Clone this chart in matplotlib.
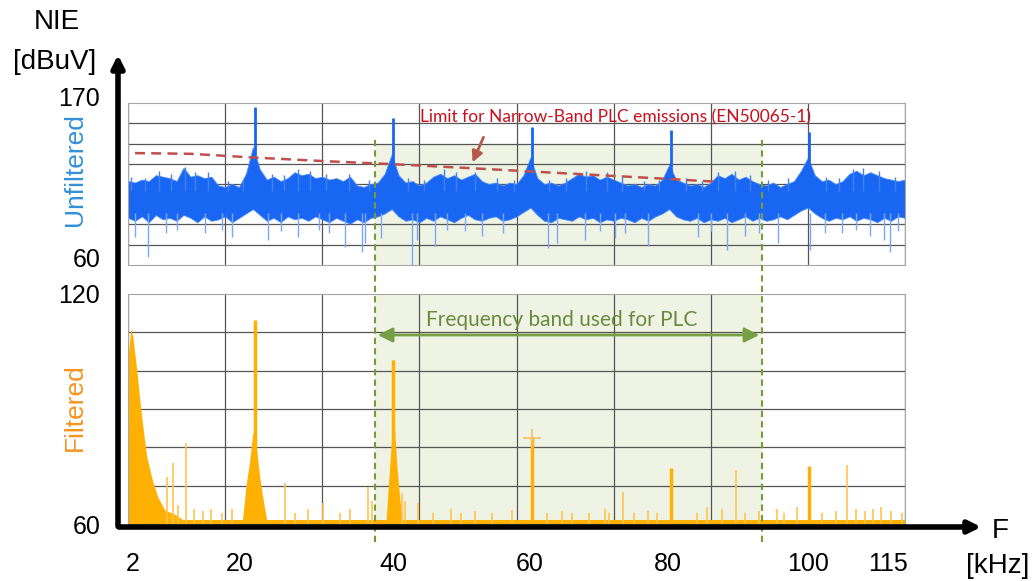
import numpy as np
import matplotlib.pyplot as plt
from matplotlib.transforms import ScaledTranslation

plt.rcParams['font.family'] = 'Liberation Sans'

# values (kHz / dBuV)
freq_khz = list(range(2, 115))
unf_hi = [117, 116, 118, 117, 121, 120, 119, 117, 126, 120, 121, 119, 120, 114, 113, 115, 113, 122, 140, 125,
          118, 120, 117, 119, 123, 121, 122, 119, 120, 118, 119, 117, 120, 114, 113, 115, 116, 122, 135, 121,
          116, 117, 114, 116, 120, 122, 119, 121, 118, 120, 122, 117, 115, 116, 114, 116, 115, 121, 133, 119,
          115, 116, 114, 116, 119, 122, 120, 121, 118, 120, 118, 116, 114, 115, 113, 115, 114, 118, 128, 118,
          116, 114, 115, 113, 116, 121, 119, 122, 118, 120, 117, 115, 114, 116, 113, 115, 117, 124, 133, 121,
          117, 118, 115, 117, 122, 124, 121, 123, 121, 119, 118, 117, 118]
unf_lo = [92, 90, 93, 89, 94, 91, 92, 90, 94, 92, 89, 93, 90, 91, 93, 89, 92, 95, 98, 94,
          90, 92, 89, 93, 91, 92, 90, 93, 91, 89, 92, 90, 88, 91, 89, 92, 93, 95, 98, 93,
          90, 91, 89, 92, 90, 93, 91, 89, 92, 94, 91, 90, 92, 93, 90, 91, 93, 96, 99, 94,
          90, 89, 92, 91, 90, 93, 91, 92, 89, 91, 90, 92, 91, 89, 92, 90, 93, 95, 98, 93,
          91, 90, 92, 89, 91, 90, 92, 89, 91, 93, 90, 92, 90, 91, 93, 91, 94, 97, 99, 95,
          92, 90, 92, 91, 93, 90, 92, 91, 89, 92, 90, 93, 92]
unf_up_f = [2.5, 4.4, 6.5, 8.2, 10.2, 11.7, 13.5, 16.4, 18.6, 22.8, 24.5, 26.5, 28.3, 30.6, 33.8, 36.8,
            42.3, 44.6, 47.5, 49.3, 52, 55.2, 57.6, 62.7, 65.1, 68, 71, 73.2, 76.4, 78.6, 82.4, 84.7,
            87, 89.5, 91.6, 94.3, 97.2, 102.6, 104.5, 106.5, 108, 110.3, 112.6]
unf_up_db = [120, 119, 124, 122, 126.5, 123, 123, 117, 118, 122, 121, 125, 124, 122, 122, 118,
             119, 118, 125, 123, 123, 119, 118, 118, 119, 124, 123, 120, 117, 118, 119, 117,
             123, 124, 121, 118, 119, 120, 119, 125, 126, 124, 120]
unf_dn_f = [3.0, 4.9, 7.5, 9, 13.1, 15.5, 17, 22.2, 24, 26.5, 29.5, 31, 33.3, 35.7, 36.2, 38.5, 42.9, 43.6,
            46.2, 48, 50.6, 53, 56, 62.5, 63.9, 67.9, 70, 72.2, 73.6, 77, 84.1, 86, 88.3, 91, 93, 95.7,
            100.3, 102.5, 104.9, 107, 109, 111, 111.8, 113]
unf_dn_db = [79, 65.5, 82, 84, 81.7, 84, 79, 77, 83, 79, 84, 82, 72, 69, 74.6, 78, 60, 77,
             72.6, 84, 83, 80, 82, 71.5, 75, 77, 83, 78.5, 81.7, 72.6, 79, 83, 70, 80, 82, 74.6,
             70, 82, 81.7, 84, 80, 77, 69, 83]
peak_f = [20.3, 40.2, 60.2, 80.2, 100.1]
unf_peak_db = [167, 160, 154, 152, 150]
limit_f = [3, 11, 20, 30, 40, 52, 64, 77, 86.6]
limit_db = [136, 135.5, 133, 130.6, 128.5, 125.6, 122.5, 119.2, 116.6]

filt_decay_f = [2.0, 2.4, 2.7, 3.3, 3.7, 4.2, 4.7, 5.5, 6.3, 7.3, 8.8, 10]
filt_decay_db = [103.6, 111, 108.8, 99.4, 92.3, 84.5, 77.5, 71.5, 67, 63.6, 62.5, 61]
hump20_f = [18.5, 19, 19.5, 20, 20.5, 21, 21.5, 22]
hump20_db = [61, 70, 76, 84, 80, 72, 66, 61]
hump40_f = [39.2, 39.6, 40, 40.4, 40.8, 41.2, 41.6]
hump40_db = [61, 72, 82, 85, 74, 66, 61]
filt_peak_db = [113.2, 102.8, 82.7, 74.6, 75]
filt_spike_f = [7.6, 8.5, 9.2, 10.4, 11.5, 12.8, 14, 15.5, 17, 24.6, 26, 28, 30.1, 32.5, 34, 36.6, 37.2,
                41.5, 41.9, 43.8, 46, 48.5, 50, 52, 54.5, 57.3, 62.4, 64.5, 66, 68.5, 70.7, 71.3, 73.3,
                75, 77, 78.2, 84, 85.5, 87.6, 89.6, 91, 93, 95.5, 96.5, 98.4, 102, 104, 105.7, 107,
                108.2, 109.4, 110.5, 112, 113.5]
filt_spike_db = [72.3, 75.8, 65, 81, 64, 63.5, 64, 63, 63.8, 70.7, 63, 64, 65.5, 63, 64, 69.7, 66,
                 68, 66, 65.5, 63, 64, 63, 63.5, 63, 63.6, 63, 63.5, 63, 63, 64, 63, 68.4,
                 63, 63.5, 63, 63, 64.5, 64, 74, 63, 63.5, 64, 63, 64.4, 63, 63.5, 75.4, 64,
                 63.5, 64, 64.5, 63.5, 63]
band = [37.6, 93.4]

tick_pos = [2.6, 18.1, 40.2, 59.9, 79.8, 100, 111.5]
tick_lab = ['2', '20', '40', '60', '80', '100', '115']

blue = '#1866f2'
orange = '#ffb000'
green = '#77a044'

fig = plt.figure(figsize=(10.35, 5.81), dpi=100)
ax1 = fig.add_axes([0.1237, 0.5439, 0.7507, 0.2788])
ax2 = fig.add_axes([0.1237, 0.0981, 0.7507, 0.3959])

grid_x = np.arange(2, 115, 14)
for ax, lo, hi, step in [(ax1, 60, 170, 13.75), (ax2, 60, 120, 10)]:
    ax.set_xlim(2, 114)
    ax.set_ylim(lo, hi)
    ax.set_xticks(grid_x, minor=True)
    ax.set_yticks(np.arange(lo, hi + 0.1, step), minor=True)
    ax.set_yticks([lo, hi])
    ax.grid(which='minor', color='#555555', lw=0.9)
    ax.grid(which='major', visible=False)
    ax.tick_params(which='both', length=0, labelsize=18, pad=20)
    for s in ax.spines.values():
        s.set_color('#a6a6a6')
    ax.set_axisbelow(True)

# the top panel's value labels sit a little higher in the reference
for lab in ax1.get_yticklabels():
    lab.set_transform(lab.get_transform() + ScaledTranslation(0, 0.07, fig.dpi_scale_trans))

# frequency band used by PLC
ax1.fill_between(band, 60, 141.5, color='#eff3e4', lw=0, zorder=0)
ax2.axvspan(band[0], band[1], color='#eff3e4', lw=0, zorder=0)

# unfiltered spectrum
ax1.fill_between(freq_khz, unf_lo, unf_hi, color=blue, lw=0.6, edgecolor='#4d8cf5', zorder=2)
ax1.vlines(unf_up_f, 110, unf_up_db, color='#3f82f3', lw=1.0, zorder=2)
ax1.vlines(unf_dn_f, unf_dn_db, 95, color='#7aa8f5', lw=1.0, zorder=2)
ax1.vlines(peak_f, 120, unf_peak_db, color=blue, lw=2.0, zorder=3)
ax1.plot(limit_f, limit_db, ls=(0, (4, 2.5)), color='#c0504d', lw=1.8, zorder=4)
ax1.set_xticks([])

# filtered spectrum
ax2.fill_between([2, 114], 60, 61, color=orange, lw=0, zorder=2)
ax2.fill_between(filt_decay_f, 60, filt_decay_db, color=orange, lw=0, zorder=2)
ax2.fill_between(hump20_f, 60, hump20_db, color=orange, lw=0, zorder=2)
ax2.fill_between(hump40_f, 60, hump40_db, color=orange, lw=0, zorder=2)
ax2.vlines(filt_spike_f, 60, filt_spike_db, color='#ffc34d', lw=1.2, zorder=2)
ax2.vlines(peak_f, 60, filt_peak_db, color=orange, lw=2.5, zorder=3)
ax2.plot(peak_f[2], filt_peak_db[2] - 0.3, marker='+', ms=13, mew=1.2, color='#f5c070', zorder=3)
ax2.set_xticks(tick_pos)
ax2.set_xticklabels(tick_lab)

# band edges and arrow
for b in band:
    ax2.axvline(b, ymin=-0.08, ymax=1.67, clip_on=False, color='#7a9a3a', ls=(0, (3, 2)), lw=1.5, zorder=5)
ax2.annotate('', xy=(band[0], 109.3), xytext=(band[1], 109.3),
             arrowprops=dict(arrowstyle='<|-|>', color=green, lw=2, mutation_scale=22))
ax2.text(64.5, 113.2, 'Frequency band used for PLC', color='#6b8a3d', fontsize=15,
         family='Lato', ha='center', va='center')

ax1.text(72.3, 160.5, 'Limit for Narrow-Band PLC emissions (EN50065-1)', color='#c8101c',
         fontsize=12.5, family='Lato', ha='center', va='center')
ax1.annotate('', xy=(51.5, 128), xytext=(53.4, 148.5),
             arrowprops=dict(arrowstyle='-|>', color='#b5574b', lw=2, mutation_scale=16))

# outer axes arrows and labels
ov = fig.add_axes([0, 0, 1, 1])
ov.set_xlim(0, 1035)
ov.set_ylim(581, 0)
ov.axis('off')
ov.patch.set_visible(False)
ov.annotate('', xy=(118, 52), xytext=(118, 529),
            arrowprops=dict(arrowstyle='-|>', color='k', lw=4, mutation_scale=18))
ov.annotate('', xy=(984, 527), xytext=(116, 527),
            arrowprops=dict(arrowstyle='-|>', color='k', lw=4, mutation_scale=18))
ov.text(57, 22, 'NIE', fontsize=20, ha='center', va='center')
ov.text(55, 62, '[dBuV]', fontsize=20, ha='center', va='center')
ov.text(1000, 531, 'F', fontsize=20, ha='center', va='center')
ov.text(998, 566, '[kHz]', fontsize=20, ha='center', va='center')
ov.text(75, 170, 'Unfiltered', fontsize=19, rotation=90, color='#3391d9', ha='center', va='center')
ov.text(75, 407, 'Filtered', fontsize=19, rotation=90, color='#f7931e', ha='center', va='center')

fig.savefig('out.png', dpi=100)
